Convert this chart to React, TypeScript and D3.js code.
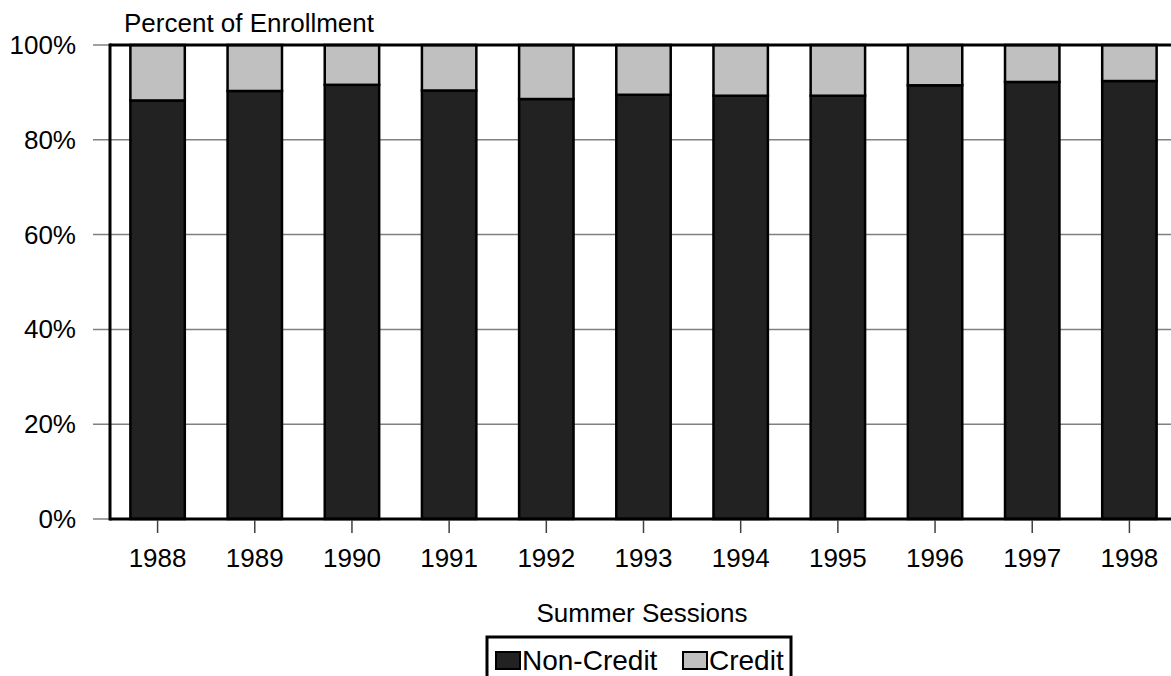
import React, { useEffect, useRef } from 'react';
import * as d3 from 'd3';

const years = ['1988', '1989', '1990', '1991', '1992', '1993', '1994', '1995', '1996', '1997', '1998'];
const nonCredit = [88.3, 90.3, 91.6, 90.4, 88.6, 89.5, 89.3, 89.3, 91.5, 92.2, 92.4];
const credit = nonCredit.map(v => 100 - v);
const yTicks = [0, 20, 40, 60, 80, 100];
const seriesNames = ['Non-Credit', 'Credit'];
const seriesColors = ['#222222', '#c0c0c0'];

const W = 1171;
const H = 676;
const FONT = '"Liberation Sans", Arial, sans-serif';

export default function App() {
	const ref = useRef<SVGSVGElement>(null);

	useEffect(() => {
		const svg = d3.select(ref.current);
		svg.selectAll('*').remove();

		const left = 110;
		const top = 45;
		const bottom = 519;

		const x = d3.scaleBand().domain(years).range([109, 1178]).paddingInner(0.44).paddingOuter(0.22);
		const y = d3.scaleLinear().domain([0, 100]).range([bottom, top]);

		// gridlines + y ticks
		svg.append('g')
			.selectAll('line')
			.data(yTicks)
			.enter()
			.append('line')
			.attr('x1', 93)
			.attr('x2', d => (d === 0 || d === 100 ? left : W))
			.attr('y1', d => y(d))
			.attr('y2', d => y(d))
			.attr('stroke', '#808080')
			.attr('stroke-width', 1.5);

		svg.append('g')
			.selectAll('text')
			.data(yTicks)
			.enter()
			.append('text')
			.text(d => d + '%')
			.attr('x', 76)
			.attr('y', d => y(d) + 9)
			.attr('text-anchor', 'end')
			.attr('font-family', FONT)
			.attr('font-size', '26px')
			.attr('fill', '#000');

		// bars
		const stack = years.map((yr, i) => ({ yr, nc: nonCredit[i], cr: credit[i] }));
		const g = svg.append('g');
		g.selectAll('rect.nc')
			.data(stack)
			.enter()
			.append('rect')
			.attr('x', d => x(d.yr)!)
			.attr('width', x.bandwidth())
			.attr('y', d => y(d.nc))
			.attr('height', d => y(0) - y(d.nc))
			.attr('fill', seriesColors[0])
			.attr('stroke', '#000')
			.attr('stroke-width', 2.5);
		g.selectAll('rect.cr')
			.data(stack)
			.enter()
			.append('rect')
			.attr('x', d => x(d.yr)!)
			.attr('width', x.bandwidth())
			.attr('y', d => y(100))
			.attr('height', d => y(d.nc) - y(100))
			.attr('fill', seriesColors[1])
			.attr('stroke', '#000')
			.attr('stroke-width', 2.5);

		// frame
		svg.append('line').attr('x1', left).attr('x2', W).attr('y1', top).attr('y2', top)
			.attr('stroke', '#000').attr('stroke-width', 3);
		svg.append('line').attr('x1', left).attr('x2', W).attr('y1', bottom).attr('y2', bottom)
			.attr('stroke', '#000').attr('stroke-width', 3);
		svg.append('line').attr('x1', left).attr('x2', left).attr('y1', top - 1.5).attr('y2', bottom + 1.5)
			.attr('stroke', '#000').attr('stroke-width', 3);

		// x ticks
		svg.append('g')
			.selectAll('line')
			.data(years)
			.enter()
			.append('line')
			.attr('x1', d => x(d)! + x.bandwidth() / 2)
			.attr('x2', d => x(d)! + x.bandwidth() / 2)
			.attr('y1', bottom + 1)
			.attr('y2', 533)
			.attr('stroke', '#404040')
			.attr('stroke-width', 1.5);

		svg.append('g')
			.selectAll('text')
			.data(years)
			.enter()
			.append('text')
			.text(d => d)
			.attr('x', d => x(d)! + x.bandwidth() / 2)
			.attr('y', 567)
			.attr('text-anchor', 'middle')
			.attr('font-family', FONT)
			.attr('font-size', '26px')
			.attr('fill', '#000');

		svg.append('text')
			.text('Percent of Enrollment')
			.attr('x', 124)
			.attr('y', 32)
			.attr('font-family', FONT)
			.attr('font-size', '26px');

		svg.append('text')
			.text('Summer Sessions')
			.attr('x', 642)
			.attr('y', 622)
			.attr('text-anchor', 'middle')
			.attr('font-family', FONT)
			.attr('font-size', '26px');

		// legend
		const lg = svg.append('g');
		lg.append('rect')
			.attr('x', 487)
			.attr('y', 637)
			.attr('width', 304)
			.attr('height', 60)
			.attr('fill', '#fff')
			.attr('stroke', '#000')
			.attr('stroke-width', 3);
		const swX = [496, 683];
		seriesNames.forEach((name, i) => {
			lg.append('rect')
				.attr('x', swX[i])
				.attr('y', 652)
				.attr('width', 24)
				.attr('height', 17)
				.attr('fill', seriesColors[i])
				.attr('stroke', '#000')
				.attr('stroke-width', 2);
			lg.append('text')
				.text(name)
				.attr('x', swX[i] + 26)
				.attr('y', 670)
				.attr('font-family', FONT)
				.attr('font-size', '28px');
		});
	}, []);

	return (
		<svg ref={ref} width={W} height={H} style={{ position: 'absolute', left: 0, top: 0, background: '#fff' }} />
	);
}
